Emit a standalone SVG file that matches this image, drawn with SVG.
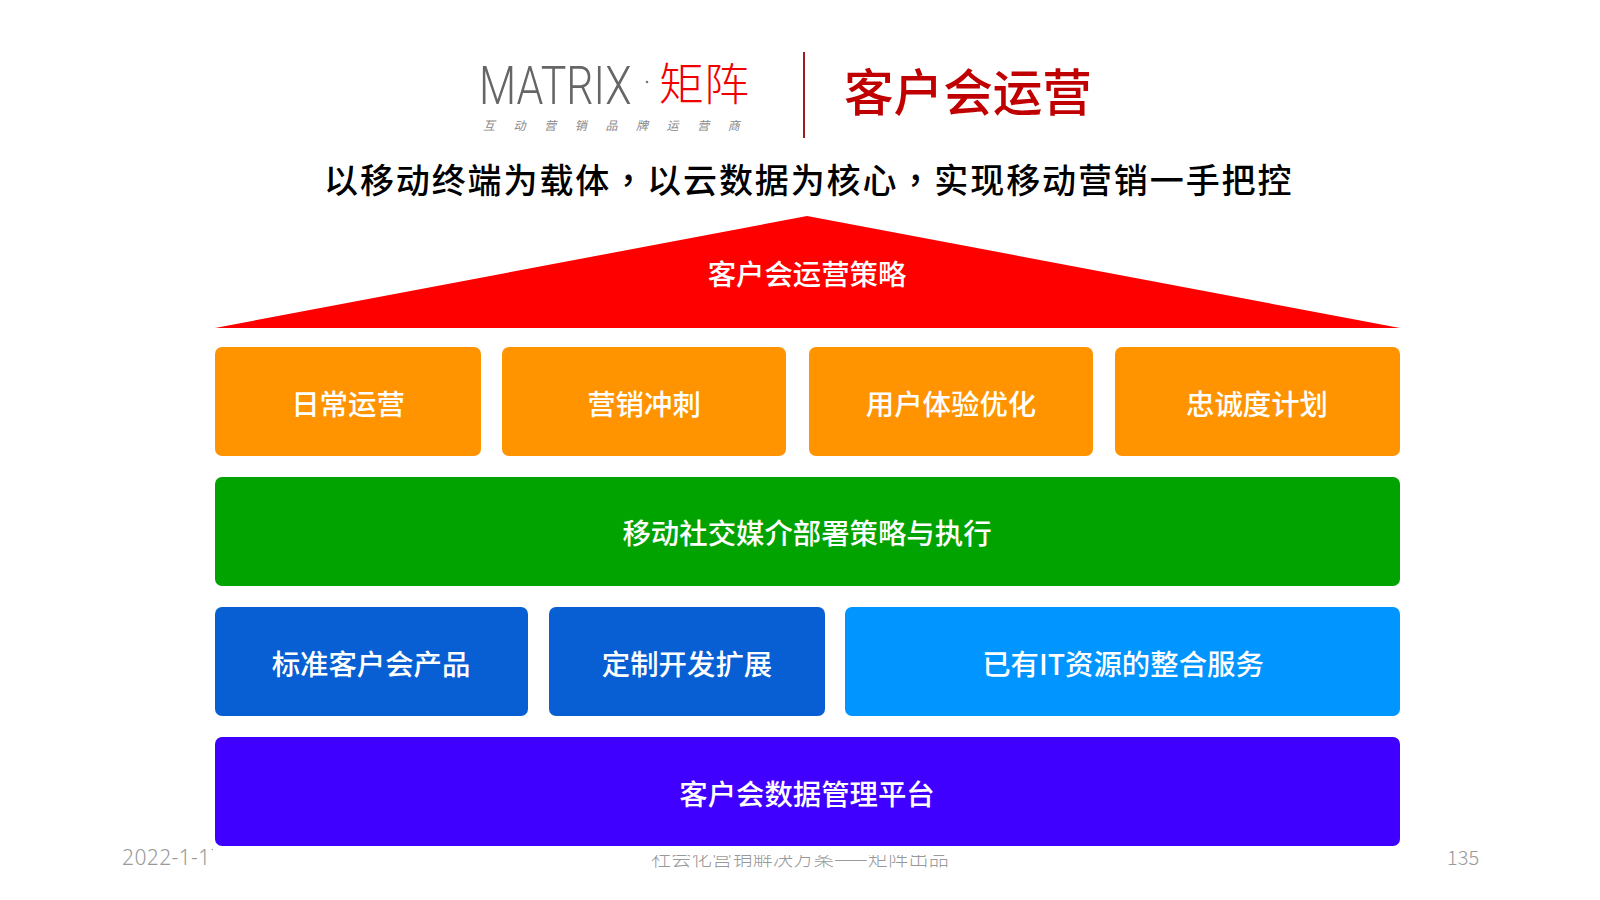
<svg xmlns="http://www.w3.org/2000/svg" width="1600" height="900" viewBox="0 0 1600 900">
<style>
text{font-family:"Noto Sans CJK SC","Noto Sans",sans-serif}
.l{fill:#fff;font-size:28.4px;font-weight:500;text-anchor:middle}
.f{fill:#999;font-size:20px;font-weight:300}
.o{fill:#ff9400}.b{fill:#075fd3}
</style>
<rect width="1600" height="900" fill="#fff"/>
<g id="footer">
<text class="f" x="122" y="865" style="font-family:'Noto Sans',sans-serif;font-size:21px" letter-spacing="0.4">2022-1-17</text>
<text class="f" x="651" y="866" letter-spacing="0.35">社会化营销解决方案——矩阵出品</text>
<text class="f" x="1447" y="865">135</text>
</g>
<rect x="213" y="200" width="1196" height="655" fill="#fff"/>
<rect x="213" y="855" width="30" height="20" fill="#fff"/>
<g id="logo">
<text transform="translate(479 104) scale(.795 1)" style="font-family:Roboto,sans-serif;font-size:54px;font-weight:300" fill="#666">MATRIX</text>
<circle cx="647" cy="82" r="1.3" fill="#777"/>
<text x="659" y="101" style="font-size:45px;font-weight:300" fill="#f00000">矩阵</text>
<text x="483" y="130" style="font-size:12px;font-style:italic" fill="#888" letter-spacing="18.6">互动营销品牌运营商</text>
</g>
<rect id="divider" x="803" y="52" width="2" height="86" fill="#a01c1c"/>
<text id="title" x="844" y="111" style="font-size:49.6px;font-weight:500" fill="#c00000">客户会运营</text>
<text id="subtitle" x="324" y="193" style="font-size:34px;font-weight:500" fill="#000" letter-spacing="1.9">以移动终端为载体<tspan style="font-family:'Noto Sans CJK TC',sans-serif">&#xFF0C;</tspan>以云数据为核心<tspan style="font-family:'Noto Sans CJK TC',sans-serif">&#xFF0C;</tspan>实现移动营销一手把控</text>
<g id="roof"><polygon points="807,216 1400,328 215,328" fill="#f00"/><text class="l" x="807" y="285">客户会运营策略</text></g>
<g id="n1"><rect class="o" x="215" y="347" width="266" height="109" rx="7"/><text class="l" x="348" y="415">日常运营</text></g>
<g id="n2"><rect class="o" x="502" y="347" width="284" height="109" rx="7"/><text class="l" x="644" y="415">营销冲刺</text></g>
<g id="n3"><rect class="o" x="809" y="347" width="284" height="109" rx="7"/><text class="l" x="951" y="415">用户体验优化</text></g>
<g id="n4"><rect class="o" x="1115" y="347" width="285" height="109" rx="7"/><text class="l" x="1257" y="415">忠诚度计划</text></g>
<g id="n5"><rect fill="#00a300" x="215" y="477" width="1185" height="109" rx="7"/><text class="l" x="807" y="544">移动社交媒介部署策略与执行</text></g>
<g id="n6"><rect class="b" x="215" y="607" width="313" height="109" rx="7"/><text class="l" x="371" y="675">标准客户会产品</text></g>
<g id="n7"><rect class="b" x="549" y="607" width="276" height="109" rx="7"/><text class="l" x="687" y="675">定制开发扩展</text></g>
<g id="n8"><rect fill="#0095ff" x="845" y="607" width="555" height="109" rx="7"/><text class="l" x="1123" y="675">已有IT资源的整合服务</text></g>
<g id="n9"><rect fill="#4000ff" x="215" y="737" width="1185" height="109" rx="7"/><text class="l" x="807" y="805">客户会数据管理平台</text></g>
</svg>
